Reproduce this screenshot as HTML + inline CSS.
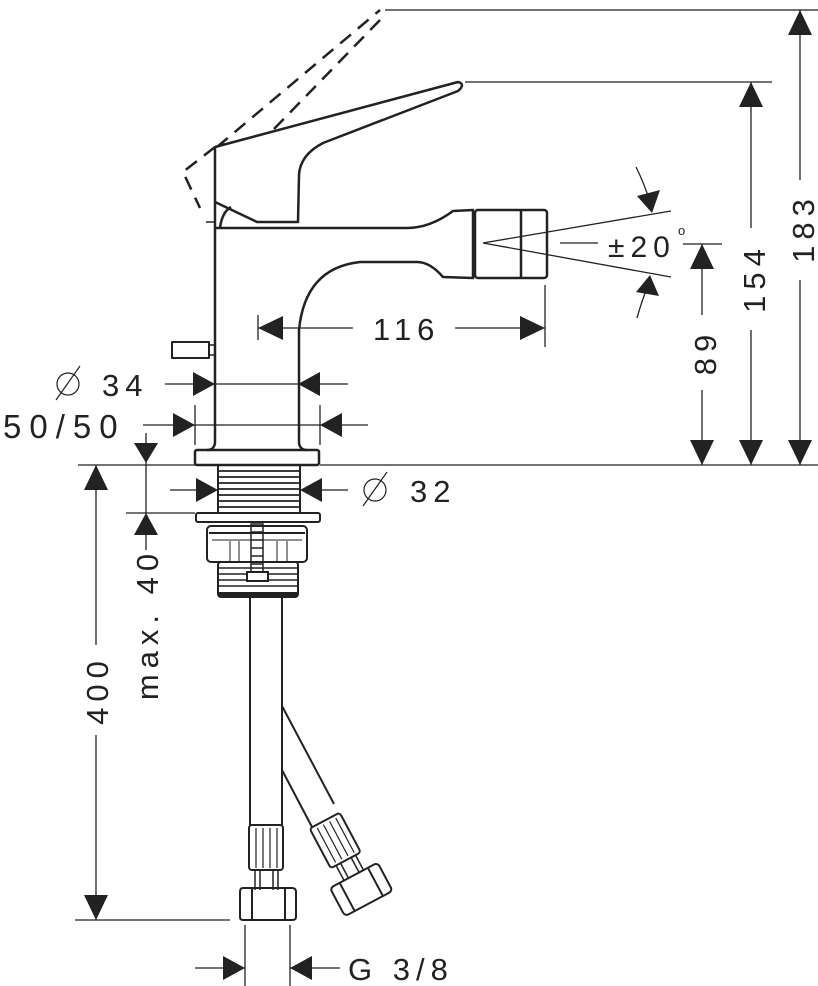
<!DOCTYPE html>
<html><head><meta charset="utf-8"><style>
html,body{margin:0;padding:0;background:#fff;width:818px;height:986px;overflow:hidden}
svg{display:block}
text{font-family:"Liberation Sans",sans-serif;fill:#222;letter-spacing:6px}
</style></head><body>
<svg width="818" height="986" viewBox="0 0 818 986" xmlns="http://www.w3.org/2000/svg">
<g fill="none" stroke="#222" stroke-width="1.3">
<line x1="385" y1="10" x2="818" y2="10"/>
<line x1="465" y1="82" x2="772" y2="82"/>
<line x1="320" y1="465" x2="818" y2="465"/>
<line x1="78" y1="465" x2="195" y2="465"/>
<line x1="126" y1="513" x2="195" y2="513"/>
<line x1="75" y1="920" x2="230" y2="920"/>
<line x1="683" y1="244" x2="722" y2="244"/>
<line x1="800" y1="10" x2="800" y2="180"/><line x1="800" y1="280" x2="800" y2="465"/>
<line x1="751" y1="82" x2="751" y2="228"/><line x1="751" y1="330" x2="751" y2="465"/>
<line x1="702" y1="244" x2="702" y2="315"/><line x1="702" y1="390" x2="702" y2="465"/>
<line x1="483" y1="243" x2="671" y2="211"/>
<line x1="483" y1="243" x2="671" y2="277"/>
<line x1="560" y1="243" x2="598" y2="243"/>
<path d="M636 167 Q645 185 651 205"/>
<path d="M637 318 Q642 300 649 283"/>
<line x1="258" y1="328" x2="353" y2="328"/><line x1="455" y1="328" x2="545" y2="328"/>
<line x1="258" y1="315" x2="258" y2="340"/><line x1="545" y1="285" x2="545" y2="347"/>
<line x1="165" y1="384" x2="348" y2="384"/>
<line x1="143" y1="425" x2="368" y2="425"/>
<line x1="195" y1="405" x2="195" y2="445"/><line x1="320" y1="405" x2="320" y2="445"/>
<line x1="146" y1="433" x2="146" y2="550"/>
<line x1="96" y1="465" x2="96" y2="645"/><line x1="96" y1="735" x2="96" y2="920"/>
<line x1="170" y1="490" x2="218" y2="490"/><line x1="300" y1="490" x2="348" y2="490"/>
<line x1="245" y1="925" x2="245" y2="986"/><line x1="290" y1="925" x2="290" y2="986"/>
<line x1="195" y1="968" x2="245" y2="968"/><line x1="290" y1="968" x2="340" y2="968"/>
</g>
<g fill="#222">
<polygon points="800,10 788,35 812,35"/><polygon points="800,465 788,440 812,440"/>
<polygon points="751,82 739,107 763,107"/><polygon points="751,465 739,440 763,440"/>
<polygon points="702,244 690,269 714,269"/><polygon points="702,465 690,440 714,440"/>
<polygon points="652,213 637,196 660,190"/><polygon points="650,275 636,292 659,296"/>
<polygon points="258,328 283,316 283,340"/><polygon points="545,328 520,316 520,340"/>
<polygon points="215,384 193,372 193,396"/><polygon points="298,384 320,372 320,396"/>
<polygon points="195,425 173,413 173,437"/><polygon points="320,425 342,413 342,437"/>
<polygon points="146,463 134,443 158,443"/><polygon points="146,513 134,535 158,535"/>
<polygon points="96,465 84,490 108,490"/><polygon points="96,920 84,895 108,895"/>
<polygon points="218,490 196,478 196,502"/><polygon points="300,490 322,478 322,502"/>
<polygon points="245,968 223,956 223,980"/><polygon points="290,968 312,956 312,980"/>
</g>
<g fill="none" stroke="#222" stroke-width="2.5" stroke-linejoin="round">
<g stroke-dasharray="14,9" stroke-width="2.5">
<path d="M217 147 L380 10"/>
<path d="M380 20 L273 130"/>
<path d="M215 147 L183 172 L200 208"/>
</g>
<path d="M215 228 L215 147 L458 82 Q466 84 458 91 L323 143 Q300 155 299 175 L298 222 L257 222 L215 202"/>
<path d="M220 228 Q222 212 231 207"/>
<line x1="206" y1="222" x2="215" y2="222" stroke-width="1.5"/>
<path d="M215 228 L407 228 Q430 228 453 211 L473 210 L473 278 L443 277 Q430 262 417 262 L360 262 Q305 268 299 330 L299 443 Q300 450 307 450"/>
<path d="M215 228 L215 443 Q214 450 207 450"/>
<rect x="475" y="210" width="72" height="68" rx="3"/>
<line x1="521" y1="210" x2="521" y2="278"/>
<rect x="195" y="450" width="124" height="15" rx="2"/>
<rect x="172" y="342" width="37" height="16" stroke-width="2"/>
<rect x="209" y="345" width="6" height="10" stroke-width="1.5"/>
</g>
<g fill="none" stroke="#222" stroke-width="2">
<rect x="218" y="465" width="82" height="48"/>
<path d="M218 471H300M218 477H300M218 483H300M218 489H300M218 495H300M218 501H300M218 507H300" stroke-width="1.8"/>
<rect x="196" y="513" width="124" height="9" rx="2"/>
<rect x="207" y="526" width="100" height="36" rx="4"/>
<line x1="209" y1="533" x2="305" y2="533"/>
<line x1="212" y1="540" x2="302" y2="540" stroke-width="1"/>
<path d="M230 541V562M239 541V562M277 541V562M287 541V562" stroke-width="1"/>
<rect x="251" y="524" width="12" height="50" stroke-width="1.5"/>
<path d="M251 532H263M251 540H263M251 548H263M251 556H263M251 564H263" stroke-width="1.5"/>
<rect x="218" y="562" width="80" height="35" rx="3"/>
<path d="M218 568H298M218 574H298M218 580H298M218 586H298" stroke-width="1.5"/>
<rect x="247" y="572" width="21" height="9" fill="#fff"/>
<line x1="218" y1="594" x2="298" y2="594" stroke-width="4"/>
<line x1="250" y1="597" x2="250" y2="825"/>
<line x1="282" y1="597" x2="282" y2="825"/>
<line x1="282" y1="706" x2="334" y2="804"/>
<line x1="282" y1="770" x2="312" y2="827"/>
<rect x="249" y="825" width="34" height="45" rx="3"/>
<path d="M256 828V868M263 828V868M270 828V868M277 828V868" stroke-width="1.2"/>
<path d="M255 870V890M260 870V890M273 870V890M278 870V890" stroke-width="1.5"/>
<path d="M243 888 L292 888 Q296 888 296 892 L296 917 Q296 920 292 920 L243 920 Q240 920 240 917 L240 892 Q240 888 243 888Z"/>
<line x1="252" y1="888" x2="252" y2="920"/><line x1="285" y1="888" x2="285" y2="920"/>
<g transform="translate(335,840) rotate(-28)">
<rect x="-17" y="-22" width="34" height="45" rx="3"/>
<path d="M-10 -19V20M-3 -19V20M4 -19V20M11 -19V20" stroke-width="1.2"/>
<path d="M-11 23V40M-6 23V40M6 23V40M11 23V40" stroke-width="1.5"/>
<rect x="-27" y="40" width="54" height="32" rx="4"/>
<line x1="-16" y1="40" x2="-16" y2="72"/><line x1="16" y1="40" x2="16" y2="72"/>
</g>
</g>
<g font-size="31">
<text x="373" y="340">116</text>
<text x="608" y="257" font-size="30">±20</text>
<text x="678" y="235" font-size="13">o</text>
<text transform="translate(814,228) rotate(-90)" text-anchor="middle">183</text>
<text transform="translate(765,278) rotate(-90)" text-anchor="middle">154</text>
<text transform="translate(716,352) rotate(-90)" text-anchor="middle">89</text>
<text x="102" y="396">34</text>
<text x="3" y="438" font-size="33" style="letter-spacing:8px">50/50</text>
<text x="410" y="502">32</text>
<text transform="translate(158,624) rotate(-90)" text-anchor="middle">max. 40</text>
<text transform="translate(108,690) rotate(-90)" text-anchor="middle">400</text>
<text x="348" y="980">G 3/8</text>
</g>
<g fill="none" stroke="#222" stroke-width="1.2">
<circle cx="68" cy="384" r="11"/><line x1="56" y1="400" x2="80" y2="366"/>
<circle cx="375" cy="490" r="11"/><line x1="363" y1="506" x2="387" y2="472"/>
</g>
</svg>
</body></html>
